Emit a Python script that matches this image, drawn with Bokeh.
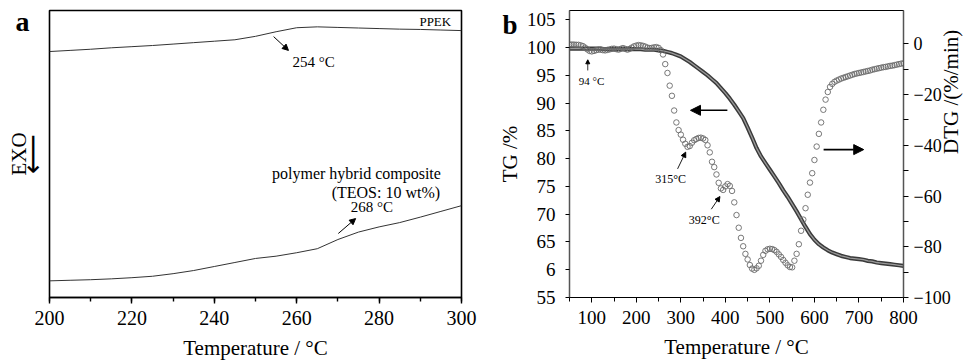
import math
from bokeh.plotting import figure
from bokeh.layouts import row
from bokeh.models import (Range1d, LinearAxis, SingleIntervalTicker, FixedTicker,
                          Label, Arrow, NormalHead)
from bokeh.embed import file_html
from bokeh.resources import INLINE

FONT = "Liberation Serif"

# ---------------- Panel a (DSC) ----------------
dsc_temp = [200, 205, 210, 215, 220, 225, 230, 235, 240, 245, 250,
            255, 260, 265, 270, 275, 280, 285, 290, 295, 300]
ppek = [85.7, 86.1, 86.5, 87.0, 87.4, 87.8, 88.3, 88.8, 89.3, 89.8, 91.0,
        92.6, 94.0, 94.3, 94.1, 93.9, 93.7, 93.5, 93.4, 93.2, 93.0]
composite = [5.8, 6.0, 6.2, 6.5, 6.9, 7.4, 8.3, 9.4, 10.8, 12.2, 13.6,
             14.4, 15.6, 17.0, 20.2, 22.8, 24.6, 26.1, 28.0, 30.0, 32.0]

# ---------------- Panel b (TG / DTG) ----------------
tg_temp = list(range(50, 801, 10))
tg = [99.8, 99.8, 99.8, 99.8, 99.8, 99.8, 99.8, 99.8, 99.7, 99.7,
      99.7, 99.7, 99.7, 99.7, 99.7, 99.7, 99.7, 99.6, 99.6, 99.6,
      99.5, 99.4, 99.2, 99.0, 98.7, 98.4, 97.9, 97.4, 96.8, 96.2,
      95.6, 95.0, 94.3, 93.6, 92.7, 91.8, 90.8, 89.7, 88.5, 87.3,
      85.6, 83.8, 81.9, 80.4, 79.2, 78.0, 76.8, 75.6, 74.3, 73.1,
      71.8, 70.5, 69.1, 67.7, 66.4, 65.4, 64.6, 64.0, 63.5, 63.1,
      62.8, 62.5, 62.3, 62.1, 62.0, 61.9, 61.8, 61.6, 61.5, 61.3,
      61.2, 61.1, 61.0, 60.9, 60.8, 60.7]

dtg_temp = list(range(50, 801, 5))
dtg = [-0.3, -0.3, -0.3, -0.4, -0.4, -0.6, -0.9, -1.5, -2.2, -2.8,
       -3.0, -2.8, -2.5, -2.3, -2.3, -2.5, -2.6, -2.4, -2.2, -2.0,
       -1.9, -2.1, -2.3, -2.0, -1.7, -2.0, -2.3, -2.0, -1.5, -1.0,
       -0.7, -0.5, -0.6, -0.8, -1.1, -1.5, -1.7, -1.6, -1.4, -1.3,
       -1.6, -2.5, -4.2, -8.0, -11.5, -16.5, -20.5, -26.3, -31.0, -34.0,
       -35.8, -37.8, -39.4, -40.6, -40.3, -39.0, -38.0, -37.5, -37.1, -37.0,
       -37.3, -37.9, -40.0, -42.8, -46.5, -48.6, -51.5, -54.8, -57.0, -57.6,
       -56.2, -55.3, -56.0, -58.0, -62.5, -67.5, -72.5, -76.5, -79.8, -82.8,
       -85.0, -87.2, -88.6, -89.1, -88.5, -87.5, -85.5, -83.2, -81.6, -81.0,
       -80.8, -80.9, -81.3, -82.0, -83.0, -84.0, -85.2, -86.3, -87.3, -88.0,
       -88.1, -85.5, -82.8, -79.0, -73.7, -69.3, -64.8, -59.5, -54.7, -51.0,
       -45.8, -40.5, -35.5, -31.0, -26.0, -22.0, -19.0, -17.0, -15.8, -15.0,
       -14.5, -14.1, -13.7, -13.4, -13.1, -12.8, -12.5, -12.2, -11.9, -11.7,
       -11.5, -11.3, -11.1, -10.9, -10.7, -10.5, -10.2, -10.0, -9.8, -9.6,
       -9.4, -9.2, -9.1, -8.9, -8.7, -8.6, -8.4, -8.2, -8.0, -7.8,
       -7.7]

dtg_major = [-100, -80, -60, -40, -20, 0]
dtg_minor = [-90, -70, -50, -30, -10]


def style_axis(ax, tick_size="19px"):
    ax.axis_label_text_font = FONT
    ax.axis_label_text_font_style = "normal"
    ax.axis_label_text_font_size = "21px"
    ax.axis_label_text_color = "black"
    ax.major_label_text_font = FONT
    ax.major_label_text_font_size = tick_size
    ax.major_label_text_color = "black"
    ax.axis_line_color = "black"
    ax.major_tick_line_color = "black"
    ax.minor_tick_line_color = "black"
    ax.major_tick_in = 0
    ax.minor_tick_in = 0


def letter_axis(ax, tick, letter, size):
    # panel letter drawn as the single tick label of a bare axis
    ax.ticker = FixedTicker(ticks=[tick])
    ax.major_label_overrides = {tick: letter}
    ax.major_label_text_font_size = size
    ax.major_label_text_font_style = "bold"
    ax.major_tick_line_color = None
    ax.minor_tick_line_color = None
    ax.major_tick_out = 0
    ax.minor_tick_out = 0
    ax.axis_line_color = None


def lab(p, x, y, text, size, align="left", style="normal", **kw):
    p.add_layout(Label(x=x, y=y, text=text, text_font=FONT, text_font_size=size,
                       text_align=align, text_baseline="middle", text_color="black",
                       text_font_style=style, **kw))


def arr(p, x0, y0, x1, y1, size=6, width=1.0, **kw):
    p.add_layout(Arrow(x_start=x0, y_start=y0, x_end=x1, y_end=y1,
                       line_color="black", line_width=width,
                       end=NormalHead(size=size, fill_color="black", line_color="black"), **kw))


# ---------- figure a ----------
pa = figure(width=487, height=364, x_range=Range1d(200, 300), y_range=Range1d(0, 100),
            title=None, output_backend="svg", toolbar_location=None,
            min_border_left=49, min_border_right=26, min_border_top=10, min_border_bottom=67)
pa.grid.visible = False
pa.outline_line_color = "black"
pa.outline_line_width = 1.6
pa.background_fill_color = "white"
pa.border_fill_color = "white"

xa = pa.xaxis[0]
style_axis(xa, "20px")
xa.ticker = SingleIntervalTicker(interval=20, num_minor_ticks=2)
xa.axis_label = "Temperature / °C"
xa.major_tick_out = 6
xa.minor_tick_out = 4
xa.axis_line_width = 1.6
xa.major_tick_line_width = 1.4
xa.minor_tick_line_width = 1.4
xa.major_label_standoff = 7
xa.axis_label_standoff = 8

# inner left axis: only the downward arrow (as its label)
y_arrow = LinearAxis(axis_label="\u27f5")
style_axis(y_arrow)
y_arrow.axis_label_text_font = "DejaVu Sans"
y_arrow.axis_label_text_font_size = "28px"
y_arrow.ticker = FixedTicker(ticks=[])
y_arrow.axis_line_color = None
y_arrow.axis_label_standoff = 1
pa.add_layout(y_arrow, "left")

# outer left axis: panel letter "a" and the "EXO" title
ya = pa.yaxis[0]
style_axis(ya)
letter_axis(ya, 96, "a", "28px")
ya.major_label_standoff = -17
ya.axis_label = "EXO"
ya.axis_label_standoff = -18
pa.left = [y_arrow, ya]

pa.line(dsc_temp, ppek, line_color="#333333", line_width=1)
pa.line(dsc_temp, composite, line_color="#333333", line_width=1)

lab(pa, 297.5, 96.3, "PPEK", "13px", align="right")
lab(pa, 259.0, 82.2, "254 °C", "15px")
arr(pa, 254.4, 90.9, 258.0, 86.1)
lab(pa, 295.0, 43.2, "polymer hybrid composite", "16px", align="right")
lab(pa, 294.8, 36.6, "(TEOS: 10 wt%)", "16px", align="right")
lab(pa, 273.1, 31.4, "268 °C", "15px")
arr(pa, 270.1, 22.3, 274.3, 27.5)

# ---------- figure b ----------
pb = figure(width=490, height=364, x_range=Range1d(50, 800), y_range=Range1d(55, 106.67),
            title=None, output_backend="svg", toolbar_location=None,
            min_border_left=82, min_border_right=62, min_border_top=10, min_border_bottom=67)
pb.grid.visible = False
pb.outline_line_color = "black"
pb.outline_line_width = 1.0
pb.background_fill_color = "white"
pb.border_fill_color = "white"
pb.extra_y_ranges = {"dtg": Range1d(-100, 13.13)}

xb = pb.xaxis[0]
style_axis(xb, "19px")
xb.ticker = SingleIntervalTicker(interval=100, num_minor_ticks=2)
xb.axis_label = "Temperature / °C"
xb.major_tick_out = 5
xb.minor_tick_out = 4
xb.major_label_standoff = 8
xb.axis_label_standoff = 8

yb = pb.yaxis[0]
style_axis(yb, "19px")
yb.ticker = SingleIntervalTicker(interval=5, num_minor_ticks=0)
yb.major_label_overrides = {60: "6"}
yb.major_tick_out = 4
yb.major_label_standoff = 10
yb.axis_line_color = "#555555"
yb.axis_line_width = 1.5

# outer left axis: panel letter "b" and the "TG /%" title
yb_out = LinearAxis(axis_label="TG /%")
style_axis(yb_out)
letter_axis(yb_out, 104, "b", "27px")
yb_out.major_label_standoff = 6
yb_out.axis_label_standoff = -23
pb.add_layout(yb_out, "left")

yr = LinearAxis(y_range_name="dtg", axis_label="DTG /(%/min)")
style_axis(yr, "18px")
yr.ticker = FixedTicker(ticks=dtg_major, minor_ticks=dtg_minor)
yr.major_tick_out = 5
yr.minor_tick_out = 5
yr.major_label_standoff = 5
yr.axis_label_standoff = -3
yr.axis_label_orientation = math.pi / 2
yr.axis_line_color = "#555555"
yr.axis_line_width = 1.5
pb.add_layout(yr, "right")

pb.line(tg_temp, tg, line_color="#3a3a3a", line_width=4.2)
pb.line(tg_temp, tg, line_color="#9a9a9a", line_width=1.3)
pb.scatter(dtg_temp, dtg, y_range_name="dtg", marker="circle", size=5.5,
           fill_color=None, line_color="#6a6a6a", line_width=0.9)

arr(pb, 404.5, 88.7, 321.7, 88.7, size=10, width=1.6)
arr(pb, 620.6, -41.7, 710.7, -41.7, size=10, width=1.6, y_range_name="dtg")
lab(pb, 71.0, -14.5, "94 °C", "11px", y_range_name="dtg")
arr(pb, 91.0, -10.5, 91.0, -6.3, size=4, width=0.8, y_range_name="dtg")
lab(pb, 242.4, -53.1, "315°C", "12px", y_range_name="dtg")
arr(pb, 292.7, -49.3, 310.9, -42.7, size=5, width=0.9, y_range_name="dtg")
lab(pb, 318.0, -69.4, "392°C", "12px", y_range_name="dtg")
arr(pb, 368.4, -65.2, 387.8, -60.2, size=5, width=0.9, y_range_name="dtg")

layout = row(pa, pb)
open("out.html", "w").write(file_html(layout, INLINE))
